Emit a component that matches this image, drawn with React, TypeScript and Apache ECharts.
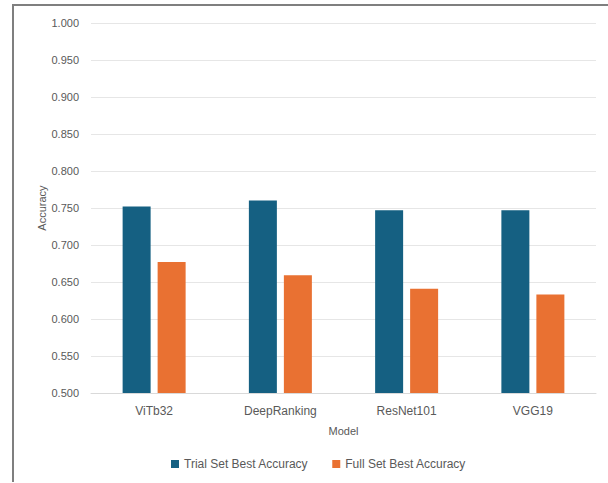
import React, { useEffect, useRef } from "react";
import * as echarts from "echarts";

const categories = ["ViTb32", "DeepRanking", "ResNet101", "VGG19"];
const trialBest = [0.752, 0.76, 0.747, 0.747];
const fullBest = [0.677, 0.659, 0.641, 0.633];
const seriesNames = ["Trial Set Best Accuracy", "Full Set Best Accuracy"];

export default function App() {
  const ref = useRef<HTMLDivElement>(null);
  useEffect(() => {
    if (!ref.current) return;
    const chart = echarts.init(ref.current, null, { renderer: "svg" });
    const font = "Liberation Sans, Arial, sans-serif";
    chart.setOption({
      animation: false,
      backgroundColor: "#ffffff",
      textStyle: { fontFamily: font },
      graphic: [
        { type: "line", shape: { x1: 13, y1: 5, x2: 608, y2: 5 }, style: { stroke: "#7f7f7f", lineWidth: 2 } },
        { type: "line", shape: { x1: 13, y1: 4, x2: 13, y2: 482 }, style: { stroke: "#7f7f7f", lineWidth: 2 } },
      ],
      grid: { left: 91, right: 12, top: 23, bottom: 90, containLabel: false },
      legend: {
        data: seriesNames,
        bottom: 8,
        left: 166,
        itemWidth: 8,
        itemHeight: 8,
        itemGap: 24,
        icon: "rect",
        textStyle: { color: "#595959", fontSize: 12, fontFamily: font },
      },
      xAxis: {
        type: "category",
        data: categories,
        name: "Model",
        nameLocation: "middle",
        nameGap: 32,
        nameMoveOverlap: false,
        nameTextStyle: { color: "#595959", fontSize: 11, fontFamily: font },
        axisLine: { lineStyle: { color: "#d9d9d9", width: 1 } },
        axisTick: { show: false },
        axisLabel: { color: "#595959", fontSize: 12, margin: 12, fontFamily: font },
      },
      yAxis: {
        type: "value",
        min: 0.5,
        max: 1.0,
        interval: 0.05,
        name: "Accuracy",
        nameLocation: "middle",
        nameGap: 44,
        nameMoveOverlap: false,
        nameTextStyle: { color: "#595959", fontSize: 11, fontFamily: font },
        axisLine: { show: false },
        axisTick: { show: false },
        axisLabel: {
          color: "#595959",
          fontSize: 11,
          margin: 12,
          fontFamily: font,
          formatter: (v: number) => v.toFixed(3),
        },
        splitLine: { lineStyle: { color: "#e6e6e6", width: 1 } },
      },
      series: [
        {
          name: seriesNames[0],
          type: "bar",
          data: trialBest,
          barWidth: 28,
          barGap: "25%",
          itemStyle: { color: "#156082" },
        },
        {
          name: seriesNames[1],
          type: "bar",
          data: fullBest,
          barWidth: 28,
          itemStyle: { color: "#e97132" },
        },
      ],
    });
    return () => chart.dispose();
  }, []);
  return (
    <div
      ref={ref}
      style={{ position: "fixed", left: 0, top: 0, width: 608, height: 483, background: "#fff" }}
    />
  );
}
